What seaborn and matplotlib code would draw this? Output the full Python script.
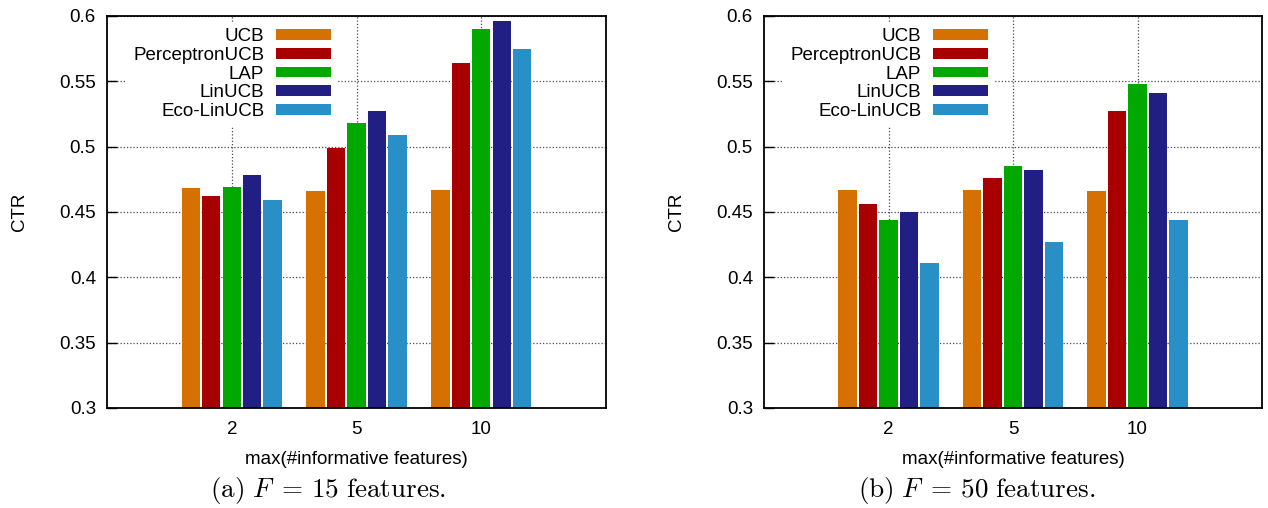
import matplotlib
matplotlib.use("Agg")
import matplotlib.pyplot as plt
import seaborn as sns
import pandas as pd
from matplotlib.ticker import FormatStrFormatter

algos = ['UCB', 'PerceptronUCB', 'LAP', 'LinUCB', 'Eco-LinUCB']
colors = ['#d67000', '#a80000', '#00a800', '#221f84', '#2890c6']
feat_labels = ['2', '5', '10']

# CTR per algorithm, one value per max(#informative features) group
ctr_f15 = {
    'UCB':           [0.468, 0.466, 0.467],
    'PerceptronUCB': [0.462, 0.499, 0.564],
    'LAP':           [0.469, 0.518, 0.590],
    'LinUCB':        [0.478, 0.527, 0.596],
    'Eco-LinUCB':    [0.459, 0.509, 0.575],
}
ctr_f50 = {
    'UCB':           [0.467, 0.467, 0.466],
    'PerceptronUCB': [0.456, 0.476, 0.527],
    'LAP':           [0.444, 0.485, 0.548],
    'LinUCB':        [0.450, 0.482, 0.541],
    'Eco-LinUCB':    [0.411, 0.427, 0.444],
}
captions = [r'$\mathrm{(a)}\ F\;=\,15\ \mathrm{features.}$',
            r'$\mathrm{(b)}\ F\;=\,50\ \mathrm{features.}$']

plt.rcParams['font.family'] = ['Liberation Sans', 'DejaVu Sans']
plt.rcParams['mathtext.fontset'] = 'cm'

FS = 13.5


def to_long(ctr):
    rows = []
    for algo in algos:
        for feat, val in zip(feat_labels, ctr[algo]):
            rows.append({'feat': feat, 'algo': algo, 'ctr': val})
    return pd.DataFrame(rows)


def draw_panel(ax, ctr):
    df = to_long(ctr)
    sns.barplot(data=df, x='feat', y='ctr', hue='algo', order=feat_labels,
                hue_order=algos, palette=colors, saturation=1, width=0.82,
                gap=0.1, errorbar=None, ax=ax)
    ax.set_xlim(-1, 3)
    ax.set_ylim(0.3, 0.6)
    ax.set_yticks([0.3, 0.35, 0.4, 0.45, 0.5, 0.55, 0.6])
    ax.yaxis.set_major_formatter(FormatStrFormatter('%g'))
    ax.set_axisbelow(True)
    ax.grid(True, linestyle=(0, (1, 1.6)), color='#4a4a4a', linewidth=0.9)
    for s in ax.spines.values():
        s.set_linewidth(1.3)
        s.set_color('black')
    ax.tick_params(axis='y', direction='in', length=7, width=1, pad=8,
                   labelsize=FS)
    ax.tick_params(axis='x', length=0, pad=9, labelsize=FS)
    ax.set_ylabel('CTR', fontsize=FS)
    ax.yaxis.set_label_coords(-0.158, 0.5)
    ax.set_xlabel('max(#informative features)', fontsize=FS)
    ax.xaxis.set_label_coords(0.5, -0.11)
    handles, labels = ax.get_legend_handles_labels()
    leg = ax.legend(handles, labels, loc='upper left',
                    bbox_to_anchor=(0.028, 1),
                    markerfirst=False, fontsize=FS, handlelength=2.9,
                    handleheight=0.5, handletextpad=0.64, labelspacing=0.09,
                    borderaxespad=0.3, borderpad=0.35, frameon=True,
                    fancybox=False)
    leg.get_frame().set_edgecolor('none')
    leg.get_frame().set_facecolor('white')
    leg.get_frame().set_alpha(1)


fig = plt.figure(figsize=(12.68, 5.08), dpi=100)
ax1 = fig.add_axes([107 / 1268, 100 / 508, 499 / 1268, 392 / 508])
ax2 = fig.add_axes([764 / 1268, 100 / 508, 498 / 1268, 392 / 508])
draw_panel(ax1, ctr_f15)
draw_panel(ax2, ctr_f50)

fig.text(328 / 1268, 18 / 508, captions[0], ha='center', va='center', fontsize=19.5)
fig.text(977 / 1268, 18 / 508, captions[1], ha='center', va='center', fontsize=19.5)

fig.savefig('out.png', dpi=100)
